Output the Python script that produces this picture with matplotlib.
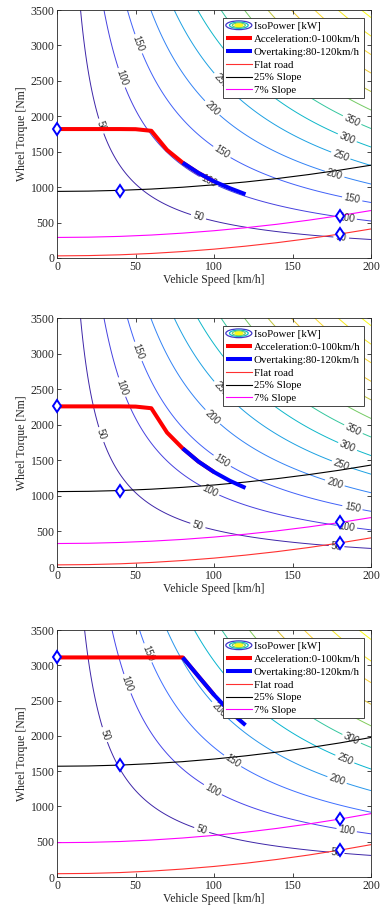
import numpy as np
import matplotlib
matplotlib.use("Agg")
import matplotlib.pyplot as plt
from matplotlib.colors import LinearSegmentedColormap
from matplotlib.legend_handler import HandlerBase
from matplotlib.lines import Line2D
from matplotlib.patches import Ellipse

plt.rcParams["font.family"] = ["Liberation Serif", "DejaVu Serif"]

# ---- data ----
road_speed = [0, 20, 40, 60, 80, 100, 120, 140, 160, 180, 200]

# panel 1
p1_acc_v = [0, 10, 20, 30, 40, 50, 60, 70, 80, 90, 100]
p1_acc_t = [1820, 1820, 1820, 1820, 1820, 1818, 1795, 1525, 1345, 1200, 1080]
p1_ovt_v = [80, 90, 100, 110, 120]
p1_ovt_t = [1345, 1200, 1080, 985, 900]
p1_flat = [30, 34, 45, 64, 91, 125, 167, 216, 273, 338, 410]
p1_s25 = [940, 944, 955, 973, 999, 1033, 1073, 1121, 1177, 1240, 1310]
p1_s7 = [290, 294, 305, 324, 351, 385, 427, 476, 533, 598, 670]
p1_mark_v = [0, 40, 180, 180]
p1_mark_t = [1820, 952, 598, 338]

# panel 2
p2_acc_v = [0, 10, 20, 30, 40, 50, 60, 70, 80, 90, 100]
p2_acc_t = [2258, 2258, 2258, 2258, 2258, 2255, 2232, 1890, 1667, 1482, 1334]
p2_ovt_v = [80, 90, 100, 110, 120]
p2_ovt_t = [1667, 1482, 1334, 1212, 1112]
p2_flat = [30, 34, 45, 64, 91, 125, 167, 216, 273, 338, 410]
p2_s25 = [1060, 1064, 1075, 1094, 1120, 1153, 1194, 1242, 1298, 1361, 1433]
p2_s7 = [330, 334, 345, 363, 388, 421, 461, 508, 563, 625, 695]
p2_mark_v = [0, 40, 180, 180]
p2_mark_t = [2258, 1075, 634, 338]

# panel 3
p3_acc_v = [0, 10, 20, 30, 40, 50, 60, 70, 80, 90, 100]
p3_acc_t = [3112, 3112, 3112, 3112, 3112, 3112, 3112, 3112, 3112, 2845, 2580]
p3_ovt_v = [80, 90, 100, 110, 120]
p3_ovt_t = [3112, 2845, 2580, 2345, 2152]
p3_flat = [47, 51, 63, 84, 113, 150, 195, 249, 311, 381, 459]
p3_s25 = [1570, 1574, 1586, 1607, 1635, 1672, 1717, 1770, 1831, 1900, 1978]
p3_s7 = [487, 491, 503, 524, 553, 590, 635, 689, 751, 821, 899]
p3_mark_v = [0, 40, 180, 180]
p3_mark_t = [3112, 1585, 821, 383]

# iso-power levels [kW] and effective wheel radius [m]
levels_12 = [50, 100, 150, 200, 250, 300, 350, 400, 450, 500, 550, 600, 650]
levels_3 = [50, 100, 150, 200, 250, 300, 350, 400, 450, 500, 550]
wheel_r = [0.29, 0.29, 0.34]

# contour label positions (speed, torque)
labels_1 = [(52.7, 3030), (41.7, 2548), (27.8, 1860), (104.8, 2510), (99.5, 2134),
            (105, 1498), (97, 1097), (90, 579), (188.7, 1983), (185.5, 1733),
            (181, 1465), (177, 1201), (188, 838), (184.5, 579), (181, 297)]
labels_2 = [(51.6, 3030), (41, 2527), (27.2, 1855), (103.7, 2490), (98.8, 2104),
            (104.8, 1480), (97, 1057), (89.5, 573), (188.7, 1935), (185, 1691),
            (181, 1433), (177, 1188), (188, 822), (184.5, 564), (178, 291)]
labels_3 = [(57, 3169), (45.3, 2744), (29.3, 2010), (103.7, 2389), (111.6, 1641),
            (99, 1230), (92, 662), (187.7, 1963), (183.4, 1679), (178.5, 1386),
            (184.5, 672), (178, 331)]

# approximate MATLAB parula colormap
parula = LinearSegmentedColormap.from_list("parula", [
    (0.0, (0.2422, 0.1504, 0.6603)),
    (0.1, (0.2803, 0.2782, 0.9221)),
    (0.2, (0.2440, 0.4358, 0.9988)),
    (0.3, (0.1540, 0.5902, 0.9218)),
    (0.4, (0.0297, 0.7082, 0.8163)),
    (0.5, (0.1938, 0.7758, 0.6251)),
    (0.6, (0.5044, 0.7993, 0.3480)),
    (0.7, (0.8634, 0.7406, 0.1596)),
    (0.8, (0.9892, 0.8136, 0.1885)),
    (0.9, (0.9610, 0.8953, 0.1279)),
    (1.0, (0.9769, 0.9839, 0.0805)),
])


class IsoHandler(HandlerBase):
    def create_artists(self, legend, orig_handle, xdescent, ydescent,
                       width, height, fontsize, trans):
        cx = width / 2 - xdescent
        cy = height / 2 - ydescent
        arts = []
        rings = [(1.0, parula(0.05), False), (0.72, parula(0.42), False),
                 (0.5, parula(0.58), False), (0.3, parula(1.0), True)]
        for f, col, fill in rings:
            e = Ellipse((cx, cy), width * f, height * 1.15 * f, transform=trans,
                        edgecolor=col, facecolor=col if fill else "none", lw=0.9)
            arts.append(e)
        return arts


panels = [
    (p1_acc_v, p1_acc_t, p1_ovt_v, p1_ovt_t, p1_flat, p1_s25, p1_s7,
     p1_mark_v, p1_mark_t, levels_12, labels_1),
    (p2_acc_v, p2_acc_t, p2_ovt_v, p2_ovt_t, p2_flat, p2_s25, p2_s7,
     p2_mark_v, p2_mark_t, levels_12, labels_2),
    (p3_acc_v, p3_acc_t, p3_ovt_v, p3_ovt_t, p3_flat, p3_s25, p3_s7,
     p3_mark_v, p3_mark_t, levels_3, labels_3),
]

fig = plt.figure(figsize=(3.81, 9.11), dpi=100)
bottoms = [0.7168, 0.3776, 0.0373]
heights = [0.2722, 0.2733, 0.2711]

spd = np.linspace(0, 200, 401)
trq = np.linspace(0, 3500, 401)
V, T = np.meshgrid(spd, trq)

for i, (acc_v, acc_t, ovt_v, ovt_t, flat, s25, s7, mv, mt, lev, lab) in enumerate(panels):
    ax = fig.add_axes([0.150, bottoms[i], 0.824, heights[i]])
    P = T * (V / 3.6) / wheel_r[i] / 1000.0
    cs = ax.contour(V, T, P, levels=lev, cmap=parula, linewidths=0.7, zorder=1)
    txt = ax.clabel(cs, manual=lab, inline=True, fontsize=7, colors="#333333",
                    inline_spacing=3)
    for t in txt:
        t.set_family("Liberation Sans")

    ax.plot(acc_v, acc_t, color="red", lw=2.9, zorder=3,
            label="Acceleration:0-100km/h", solid_capstyle="butt")
    ax.plot(ovt_v, ovt_t, color="blue", lw=2.9, zorder=4,
            label="Overtaking:80-120km/h", solid_capstyle="butt")
    ax.plot(road_speed, flat, color="#ff3030", lw=0.8, zorder=2, label="Flat road")
    ax.plot(road_speed, s25, color="black", lw=0.8, zorder=2, label="25% Slope")
    ax.plot(road_speed, s7, color="#ff00ff", lw=0.8, zorder=2, label="7% Slope")
    ax.plot(mv, mt, ls="none", marker="d", ms=6, mec="blue", mfc="white",
            mew=1.4, zorder=5, clip_on=False)

    ax.set_xlim(0, 200)
    ax.set_ylim(0, 3500)
    ax.set_xticks([0, 50, 100, 150, 200])
    ax.set_yticks([0, 500, 1000, 1500, 2000, 2500, 3000, 3500])
    ax.tick_params(direction="in", top=True, right=True, length=3, width=0.6,
                   labelsize=8.5, colors="#262626", pad=2)
    for sp in ax.spines.values():
        sp.set_linewidth(0.6)
        sp.set_color("#262626")
    ax.set_xlabel("Vehicle Speed [km/h]", fontsize=8.5, color="#262626", labelpad=1)
    ax.set_ylabel("Wheel Torque [Nm]", fontsize=8.5, color="#262626", labelpad=2)

    iso = Line2D([], [])
    handles, labels = ax.get_legend_handles_labels()
    leg = ax.legend([iso] + handles, ["IsoPower [kW]"] + labels,
                    handler_map={iso: IsoHandler()},
                    loc="upper right", bbox_to_anchor=(0.977, 0.967), borderaxespad=0,
                    fontsize=7.8, fancybox=False, framealpha=1, edgecolor="#262626",
                    handlelength=2.4, handletextpad=0.2, labelspacing=0.3,
                    borderpad=0.3)
    leg.get_frame().set_linewidth(0.6)
    leg.set_zorder(10)

fig.savefig("out.png", dpi=100)
